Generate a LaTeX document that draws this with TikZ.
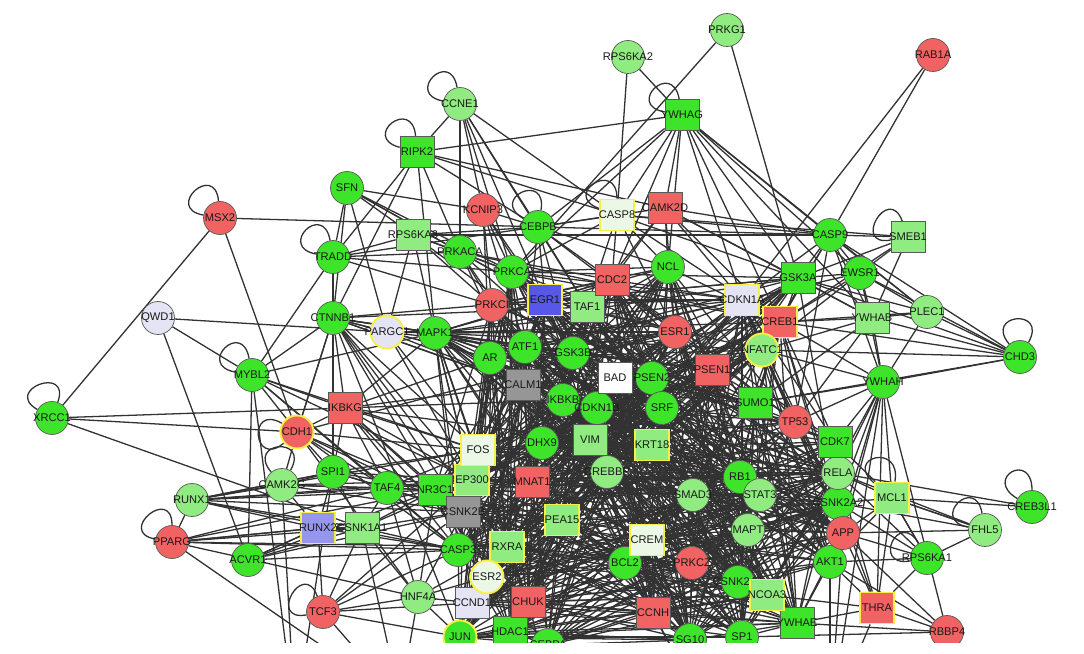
\documentclass[tikz,border=0pt]{standalone}
\usepackage{fontspec}
\setsansfont{Liberation Sans}
\usetikzlibrary{backgrounds}

\definecolor{gred}{RGB}{241,99,99}
\definecolor{ggreen}{RGB}{62,228,42}
\definecolor{glight}{RGB}{144,236,128}
\definecolor{gpale}{RGB}{236,248,230}
\definecolor{glav}{RGB}{228,228,244}
\definecolor{gblue}{RGB}{88,88,232}
\definecolor{gviolet}{RGB}{150,150,238}
\definecolor{ggray}{RGB}{150,150,150}
\definecolor{gedge}{RGB}{50,50,50}
\definecolor{ghl}{RGB}{246,240,70}

% nodes of the dense middle part
\newcommand{\corelist}{PRKCA,CDC2,EGR1,TAF1,PRKCI,ATF1,AR,GSK3B,ESR1,PSEN1,CALM1,BAD,PSEN2,IKBKB,CDKN1B,SRF,CDKN1A,GSK3A,CREB1,NFATC1,SUMO1,TP53,CDK7,FOS,DHX9,VIM,KRT18,EP300,MNAT1,CREBBP,SMAD3,CSNK2B,PEA15,CREM,RXRA,BCL2,PRKCZ,ESR2,CCND1,CHUK,CCNH,JUN,HDAC1,CEBPA,SG10,SP1,RB1,STAT3,RELA,CSNK2A2,MAPT,APP,AKT1,CSNK2A1,NCOA3,YWHAE,NCL,CASP3,NR3C1,MAPK1}

\tikzset{
  gene/.style={draw=black!65, line width=0.6pt, inner sep=0pt},
  gcirc/.style={gene, circle, minimum size=0.99cm},
  gsq/.style={gene, rectangle, minimum width=1.02cm, minimum height=0.93cm},
  hl/.style={draw=ghl, line width=1.6pt},
  link/.style={draw=gedge, line width=1.1pt},
  every label/.style={font=\sffamily\fontsize{9.5}{10}\selectfont, text=black!90, inner sep=0pt},
}

\begin{document}
\begin{tikzpicture}[x=0.03cm, y=-0.03cm]
    \useasboundingbox (0,0) rectangle (1084,654);
    \clip (0,0) rectangle (1084,642);

    % Green circles
    \foreach \n/\x/\y in {CEBPB/538/227, SFN/347/188, TRADD/333/257, PRKACA/460/252,
        PRKCA/512/272, NCL/668/267, CTNNB1/333/318, MAPK1/435/333, ATF1/525/347,
        AR/490/358, GSK3B/573/353, PSEN2/652/378, IKBKB/563/400, CDKN1B/597/408,
        SRF/662/408, CASP9/830/235, EWSR1/860/273, CHD3/1020/357, YWHAH/883/382,
        MYBL2/252/375, XRCC1/52/418, SPI1/333/472, ACVR1/248/560, TAF4/387/488,
        DHX9/542/443, CASP3/458/550, BCL2/625/563, CEBPA/548/645, SG10/690/640,
        SP1/742/637, RB1/740/477, CSNK2A2/838/503, CREB3L1/1032/507,
        RPS6KA1/927/558, AKT1/830/562, CSNK2A1/738/582}
        \node[gcirc, fill=ggreen, label=center:\n] (\n) at (\x,\y) {};

    % Light green circles
    \foreach \n/\x/\y in {PRKG1/727/30, RPS6KA2/628/57, CCNE1/460/104, PLEC1/927/312,
        CAMK2G/282/485, RUNX1/192/500, CREBBP/607/472, SMAD3/693/495, HNF4A/418/597,
        STAT3/760/495, RELA/838/473, FHL5/985/530, MAPT/748/530}
        \node[gcirc, fill=glight, label=center:\n] (\n) at (\x,\y) {};

    % Red circles
    \foreach \n/\x/\y in {RAB1A/933/55, KCNIP3/483/210, MSX2/220/218, PRKCI/492/305,
        ESR1/675/332, TP53/795/422, PPARG/172/542, TCF3/323/612, PRKCZ/692/563,
        APP/843/533, RBBP4/947/632}
        \node[gcirc, fill=gred, label=center:\n] (\n) at (\x,\y) {};

    % Green squares
    \foreach \n/\x/\y in {YWHAG/682/115, RIPK2/417/152, GSK3A/798/278, SUMO1/755/403,
        CDK7/835/442, NR3C1/435/490, HDAC1/510/632, YWHAE/797/623}
        \node[gsq, fill=ggreen, label=center:\n] (\n) at (\x,\y) {};

    % Light green squares
    \foreach \n/\x/\y in {RPS6KA3/413/235, TAF1/587/307, SMEB1/908/237, YWHAB/872/318,
        CSNK1A1/362/528, VIM/590/440}
        \node[gsq, fill=glight, label=center:\n] (\n) at (\x,\y) {};
    \foreach \n/\x/\y in {KRT18/652/445, EP300/472/480, PEA15/562/520, RXRA/507/547,
        MCL1/892/498, NCOA3/767/595}
        \node[gsq, hl, fill=glight, label=center:\n] (\n) at (\x,\y) {};

    % Red squares
    \foreach \n/\x/\y in {CAMK2D/665/208, CDC2/612/280, PSEN1/712/370, IKBKG/345/408,
        MNAT1/532/482, CHUK/528/602, CCNH/653/613}
        \node[gsq, fill=gred, label=center:\n] (\n) at (\x,\y) {};
    \foreach \n/\x/\y in {CREB1/780/322, THRA/877/608}
        \node[gsq, hl, fill=gred, label=center:\n] (\n) at (\x,\y) {};

    % Other nodes
    \foreach \n/\x/\y in {CASP8/617/215, FOS/478/450, CREM/647/540}
        \node[gsq, hl, fill=gpale, label=center:\n] (\n) at (\x,\y) {};
    \node[gsq, hl, fill=glav, label=center:CDKN1A] (CDKN1A) at (742,300) {};
    \node[gsq, fill=glav, label=center:CCND1] (CCND1) at (472,603) {};
    \node[gsq, hl, fill=gblue, label=center:EGR1] (EGR1) at (545,300) {};
    \node[gsq, hl, fill=gviolet, label=center:RUNX2] (RUNX2) at (318,528) {};
    \node[gsq, fill=ggray, label=center:CALM1] (CALM1) at (523,385) {};
    \node[gsq, fill=ggray, label=center:CSNK2B] (CSNK2B) at (463,512) {};
    \node[gsq, fill=white, label=center:BAD] (BAD) at (615,378) {};
    \node[gcirc, fill=glav, label=center:QWD1] (QWD1) at (158,318) {};
    \node[gcirc, hl, fill=glav, label=center:PARGC1] (PARGC1) at (387,332) {};
    \node[gcirc, hl, fill=gred, label=center:CDH1] (CDH1) at (297,432) {};
    \node[gcirc, hl, fill=glight, label=center:NFATC1] (NFATC1) at (762,350) {};
    \node[gcirc, hl, fill=gpale, label=center:ESR2] (ESR2) at (487,577) {};
    \node[gcirc, hl, fill=ggreen, label=center:JUN] (JUN) at (460,637) {};

    % Partners below the cut
    \coordinate (b1) at (295,720);
    \coordinate (b2) at (400,700);
    \coordinate (b3) at (560,720);
    \coordinate (b4) at (700,700);
    \coordinate (b5) at (830,720);
    \coordinate (b6) at (960,700);

    \begin{pgfonlayer}{background}
        \fill[white] (0,0) rectangle (1084,654);
        \clip (0,0) rectangle (1084,642);

        % Self loops
        \foreach \n/\p/\q in {CCNE1/100/170, RIPK2/95/165, YWHAG/100/170, MSX2/95/170,
            TRADD/100/170, MYBL2/100/170, XRCC1/70/150, PPARG/90/170, TCF3/110/190,
            CHD3/60/130, CREB3L1/90/150, FHL5/100/170, RPS6KA1/120/190, SMEB1/110/190,
            CASP8/90/160, CEBPB/80/150, CAMK2G/60/130, MCL1/80/140, CDH1/150/220}
            \draw[link] (\n.\p) .. controls +(\p:1.2cm) and +(\q:1.2cm) .. (\n.\q);

        % Outer links
        \foreach \a/\bs in {PRKG1/{PRKCA,GSK3A}, RPS6KA2/{CASP8,YWHAG}, RAB1A/{CASP9,CDKN1A},
            CCNE1/{RIPK2,KCNIP3,CEBPB,CASP8,PRKCA,EGR1,PRKACA,TAF1},
            YWHAG/{RIPK2,CASP8,CAMK2D,CEBPB,PRKCA,CDC2,GSK3A,CREB1,YWHAB,CASP9,NCL,CDKN1A,EWSR1,PLEC1},
            RIPK2/{TRADD,CTNNB1,CASP8,CAMK2D,PRKACA,CEBPB,MAPK1},
            KCNIP3/{PRKCA,CEBPB,EGR1,ATF1,AR,PRKCI,GSK3B},
            CEBPB/{EGR1,TAF1,CDC2,NCL,ESR1,GSK3B,ATF1,CASP8},
            CASP8/{CAMK2D,CDC2,NCL,CASP9,GSK3A,CREB1,ESR1,TAF1,PRKCA,SMEB1},
            CAMK2D/{NCL,CDC2,CASP9,GSK3A,CREB1,CDKN1A,ESR1,TAF1,YWHAB},
            SFN/{RPS6KA3,PRKACA,PARGC1,PRKCA,TRADD,CTNNB1,KCNIP3,EGR1},
            MSX2/{XRCC1,CDH1,CASP9},
            TRADD/{MYBL2,RPS6KA3,PRKACA,PRKCA,CASP8,CTNNB1,PRKCI},
            CTNNB1/{PARGC1,MAPK1,AR,ATF1,CALM1,IKBKB,IKBKG,CDH1,EP300,FOS,GSK3B,EGR1,TAF1,SPI1,JUN,NR3C1,CSNK2B,RXRA},
            QWD1/{PARGC1,MYBL2,ACVR1},
            MYBL2/{IKBKG,CDH1,ACVR1,MAPK1,FOS,EP300,CTNNB1,TAF4,CASP3},
            XRCC1/{CDH1,IKBKG,CSNK1A1},
            IKBKG/{CDH1,FOS,CALM1,EP300,NR3C1,MAPK1,AR,IKBKB,CHUK,TAF4,RELA,SPI1,CSNK2B,CASP3},
            CDH1/{SPI1,CAMK2G,TAF4,NR3C1,FOS,CSNK2B,CTNNB1,ESR1,CASP3,HNF4A},
            PARGC1/{MAPK1,AR,CALM1,FOS,ESR1,PSEN1,RPS6KA3,EP300},
            RPS6KA3/{PRKACA,PRKCA,CASP9,CEBPB,MAPK1,GSK3B,PRKCI},
            PRKACA/{PRKCA,PRKCI,EGR1,CREB1,CDC2,ATF1,CALM1,GSK3B},
            CASP9/{SMEB1,GSK3A,EWSR1,PLEC1,CHD3,YWHAB,CDKN1A,CREB1,NFATC1,YWHAH,TP53},
            SMEB1/{EWSR1,GSK3A,YWHAB,CREB1},
            EWSR1/{GSK3A,YWHAB,PLEC1,CHD3,CREB1,NFATC1,YWHAH,CDKN1A},
            YWHAB/{PLEC1,CHD3,CREB1,NFATC1,YWHAH,GSK3A,SUMO1,TP53},
            PLEC1/{CHD3,YWHAH,GSK3A,CREB1},
            CHD3/{YWHAH,NFATC1,SUMO1,CREB1,GSK3A},
            YWHAH/{CREB1,NFATC1,SUMO1,TP53,CDK7,RELA,CSNK2A2,APP,AKT1,MCL1,NCOA3,THRA,RBBP4},
            SPI1/{CAMK2G,TAF4,NR3C1,EP300,FOS,RUNX2,CSNK1A1,RUNX1,CSNK2B},
            CAMK2G/{RUNX1,TAF4,NR3C1,CSNK2B,EP300,RUNX2},
            RUNX1/{PPARG,RUNX2,CSNK1A1,TAF4,NR3C1,CSNK2B,CASP3,EP300,FOS,SPI1},
            RUNX2/{CSNK1A1,PPARG,ACVR1,TCF3,CASP3},
            CSNK1A1/{TAF4,CSNK2B,CASP3,EP300,NR3C1,HNF4A},
            PPARG/{RUNX2,CSNK1A1,CASP3,NR3C1,TAF4,HNF4A,RXRA},
            ACVR1/{RUNX2,CSNK1A1,CASP3,NR3C1,CSNK2B},
            TCF3/{HNF4A,CASP3,CSNK2B,EP300,CCND1,JUN,CSNK1A1},
            HNF4A/{CSNK2B,CCND1,JUN,ESR2,RXRA,NR3C1,TAF4},
            TAF4/{NR3C1,EP300,FOS,CSNK2B,CASP3},
            MCL1/{RELA,CSNK2A2,APP,RPS6KA1,FHL5,AKT1,CDK7,THRA},
            CREB3L1/{MCL1,RELA},
            FHL5/{APP,RELA,CSNK2A2,RPS6KA1,MCL1},
            RPS6KA1/{RELA,APP,CSNK2A2,AKT1,MCL1,THRA},
            RBBP4/{AKT1,THRA,SP1,YWHAE,APP},
            THRA/{APP,AKT1,RELA,CSNK2A2,YWHAE,NCOA3},
            b1/{MYBL2,SPI1,CAMK2G}, b2/{TCF3,PPARG,HNF4A,CSNK1A1}, b3/{JUN,CHUK,CASP3},
            b4/{CCNH,BCL2,RELA}, b5/{AKT1,THRA,APP,YWHAH}, b6/{RBBP4}}
            \foreach \b in \bs
                \draw[link] (\a) -- (\b);

        % Dense middle
        \pgfmathsetseed{17}
        \foreach \a [count=\i] in \corelist
            \foreach \b [count=\j] in \corelist {
                \ifnum\j>\i
                    \pgfmathtruncatemacro\keep{rnd<0.45}
                    \ifnum\keep=1 \draw[link] (\a) -- (\b); \fi
                \fi
            }
    \end{pgfonlayer}
\end{tikzpicture}
\end{document}
